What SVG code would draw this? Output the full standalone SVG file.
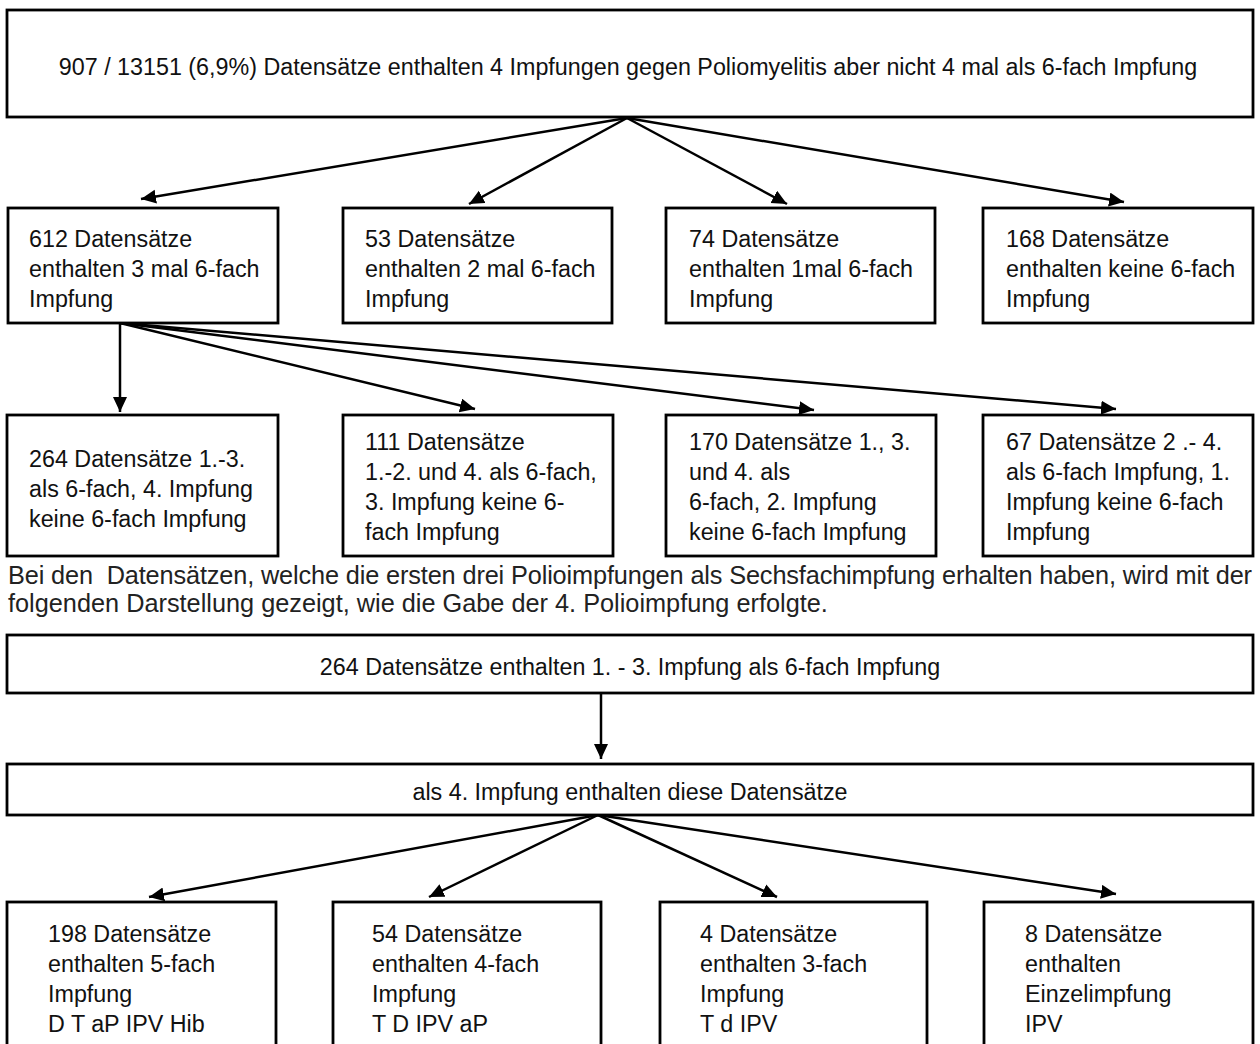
<svg xmlns="http://www.w3.org/2000/svg" width="1260" height="1044" viewBox="0 0 1260 1044">
<style>
.box{fill:#fff;stroke:#000;stroke-width:2.8}
.t{font-family:"Liberation Sans",Arial,Helvetica,sans-serif;font-size:23.3px;fill:#111}
.c{text-anchor:middle}
.p{font-family:"Liberation Sans",Arial,Helvetica,sans-serif;font-size:25.3px;fill:#222}
.con line{stroke:#000;stroke-width:2.5;marker-end:url(#ah)}
</style>
<defs>
<marker id="ah" markerUnits="userSpaceOnUse" markerWidth="18" markerHeight="16" refX="15" refY="7" orient="auto">
<path d="M0,0 L15,7 L0,14 z" fill="#000"/>
</marker>
</defs>
<rect width="1260" height="1044" fill="#fff"/>

<g class="con" id="connectors">
<line x1="627" y1="118" x2="141" y2="199"/>
<line x1="627" y1="118" x2="469" y2="204"/>
<line x1="627" y1="118" x2="787" y2="204"/>
<line x1="627" y1="118" x2="1124" y2="202"/>
<line x1="120" y1="323" x2="120" y2="412"/>
<line x1="120" y1="323" x2="475" y2="409"/>
<line x1="120" y1="323" x2="814" y2="410"/>
<line x1="120" y1="323" x2="1116" y2="409"/>
<line x1="601" y1="693" x2="601" y2="759"/>
<line x1="598" y1="815" x2="149" y2="897"/>
<line x1="598" y1="815" x2="429" y2="897"/>
<line x1="598" y1="815" x2="777" y2="897"/>
<line x1="598" y1="815" x2="1116" y2="894"/>
</g>

<g id="n_top">
<rect class="box" x="7" y="10" width="1246" height="107"/>
<text class="t c" x="628" y="75">907 / 13151 (6,9%) Datensätze enthalten 4 Impfungen gegen Poliomyelitis aber nicht 4 mal als 6-fach Impfung</text>
</g>

<g id="n_612">
<rect class="box" x="8" y="208" width="270" height="115"/>
<text class="t" x="29" y="247">612 Datensätze</text>
<text class="t" x="29" y="277">enthalten 3 mal 6-fach</text>
<text class="t" x="29" y="307">Impfung</text>
</g>
<g id="n_53">
<rect class="box" x="343" y="208" width="269" height="115"/>
<text class="t" x="365" y="247">53 Datensätze</text>
<text class="t" x="365" y="277">enthalten 2 mal 6-fach</text>
<text class="t" x="365" y="307">Impfung</text>
</g>
<g id="n_74">
<rect class="box" x="666" y="208" width="269" height="115"/>
<text class="t" x="689" y="247">74 Datensätze</text>
<text class="t" x="689" y="277">enthalten 1mal 6-fach</text>
<text class="t" x="689" y="307">Impfung</text>
</g>
<g id="n_168">
<rect class="box" x="983" y="208" width="270" height="115"/>
<text class="t" x="1006" y="247">168 Datensätze</text>
<text class="t" x="1006" y="277">enthalten keine 6-fach</text>
<text class="t" x="1006" y="307">Impfung</text>
</g>

<g id="n_264a">
<rect class="box" x="7" y="415" width="271" height="141"/>
<text class="t" x="29" y="467">264 Datensätze 1.-3.</text>
<text class="t" x="29" y="497">als 6-fach, 4. Impfung</text>
<text class="t" x="29" y="527">keine 6-fach Impfung</text>
</g>
<g id="n_111">
<rect class="box" x="343" y="415" width="270" height="141"/>
<text class="t" x="365" y="450">111 Datensätze</text>
<text class="t" x="365" y="480">1.-2. und 4. als 6-fach,</text>
<text class="t" x="365" y="510">3. Impfung keine 6-</text>
<text class="t" x="365" y="540">fach Impfung</text>
</g>
<g id="n_170">
<rect class="box" x="666" y="415" width="270" height="141"/>
<text class="t" x="689" y="450">170 Datensätze 1., 3.</text>
<text class="t" x="689" y="480">und 4. als</text>
<text class="t" x="689" y="510">6-fach, 2. Impfung</text>
<text class="t" x="689" y="540">keine 6-fach Impfung</text>
</g>
<g id="n_67">
<rect class="box" x="983" y="415" width="270" height="141"/>
<text class="t" x="1006" y="450">67 Datensätze 2 .- 4.</text>
<text class="t" x="1006" y="480">als 6-fach Impfung, 1.</text>
<text class="t" x="1006" y="510">Impfung keine 6-fach</text>
<text class="t" x="1006" y="540">Impfung</text>
</g>

<text class="p" x="8" y="584" textLength="1244" lengthAdjust="spacing" xml:space="preserve">Bei den  Datensätzen, welche die ersten drei Polioimpfungen als Sechsfachimpfung erhalten haben, wird mit der</text>
<text class="p" x="8" y="612">folgenden Darstellung gezeigt, wie die Gabe der 4. Polioimpfung erfolgte.</text>

<g id="n_264b">
<rect class="box" x="7" y="635" width="1246" height="58"/>
<text class="t c" x="630" y="675">264 Datensätze enthalten 1. - 3. Impfung als 6-fach Impfung</text>
</g>
<g id="n_als4">
<rect class="box" x="7" y="764" width="1246" height="51"/>
<text class="t c" x="630" y="800">als 4. Impfung enthalten diese Datensätze</text>
</g>

<g id="n_198">
<rect class="box" x="7" y="902" width="269" height="160"/>
<text class="t" x="48" y="942">198 Datensätze</text>
<text class="t" x="48" y="972">enthalten 5-fach</text>
<text class="t" x="48" y="1002">Impfung</text>
<text class="t" x="48" y="1032">D T aP IPV Hib</text>
</g>
<g id="n_54">
<rect class="box" x="333" y="902" width="268" height="160"/>
<text class="t" x="372" y="942">54 Datensätze</text>
<text class="t" x="372" y="972">enthalten 4-fach</text>
<text class="t" x="372" y="1002">Impfung</text>
<text class="t" x="372" y="1032">T D IPV aP</text>
</g>
<g id="n_4">
<rect class="box" x="660" y="902" width="267" height="160"/>
<text class="t" x="700" y="942">4 Datensätze</text>
<text class="t" x="700" y="972">enthalten 3-fach</text>
<text class="t" x="700" y="1002">Impfung</text>
<text class="t" x="700" y="1032">T d IPV</text>
</g>
<g id="n_8">
<rect class="box" x="984" y="902" width="269" height="160"/>
<text class="t" x="1025" y="942">8 Datensätze</text>
<text class="t" x="1025" y="972">enthalten</text>
<text class="t" x="1025" y="1002">Einzelimpfung</text>
<text class="t" x="1025" y="1032">IPV</text>
</g>
</svg>
